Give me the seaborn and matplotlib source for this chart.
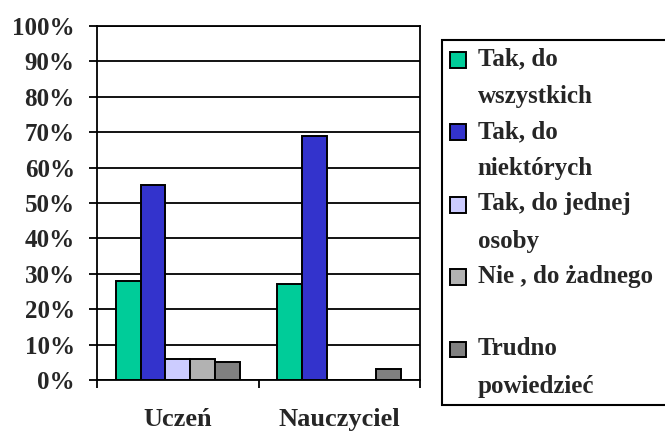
import matplotlib
matplotlib.use("Agg")
import matplotlib.pyplot as plt
import matplotlib.patches as mpatches
from matplotlib.legend_handler import HandlerPatch
from matplotlib.ticker import PercentFormatter, MultipleLocator
import seaborn as sns
import pandas as pd

# data (percent of answers)
groups = ["Uczeń", "Nauczyciel"]
answers = ["Tak, do wszystkich", "Tak, do niektórych", "Tak, do jednej osoby",
           "Nie , do żadnego", "Trudno powiedzieć"]
legend_labels = ["Tak, do\nwszystkich", "Tak, do\nniektórych", "Tak, do jednej\nosoby",
                 "Nie , do żadnego  \n ", "Trudno\npowiedzieć"]
uczen = [28, 55, 6, 6, 5]
nauczyciel = [27, 69, 0, 0, 3]
colors = ["#00CC99", "#3333CC", "#CCCCFF", "#B2B2B2", "#808080"]

rows = []
for g, vals in zip(groups, [uczen, nauczyciel]):
    for a, v in zip(answers, vals):
        rows.append({"grupa": g, "odpowiedz": a, "procent": v / 100})
df = pd.DataFrame(rows)

sns.set_theme(style="white")
plt.rcParams['font.family'] = ['Liberation Serif', 'DejaVu Serif']
plt.rcParams['font.weight'] = 'bold'

fig = plt.figure(figsize=(6.65, 4.32), dpi=100)
ax = fig.add_axes([97 / 665, 1 - 380 / 432, 323 / 665, 354 / 432])

sns.barplot(data=df, x="grupa", y="procent", hue="odpowiedz", order=groups,
            hue_order=answers, palette=colors, width=0.765, gap=0,
            edgecolor="black", linewidth=1.4, saturation=1, legend=False, ax=ax)

ax.set_xlim(-0.5, 1.5)
ax.set_ylim(0, 1)
ax.yaxis.set_major_locator(MultipleLocator(0.1))
ax.yaxis.set_major_formatter(PercentFormatter(1.0, decimals=0))
ax.grid(axis="y", color="black", linewidth=1.3)
ax.set_axisbelow(True)
for s in ax.spines.values():
    s.set_visible(True)
    s.set_color("black")
    s.set_linewidth(1.3)

ax.set_xlabel("")
ax.set_ylabel("")
ax.set_xticks([0, 1])
ax.set_xticklabels(groups)
ax.set_xticks([-0.5, 0.5, 1.5], minor=True)
ax.tick_params(axis="x", which="major", length=0, pad=20, labelsize=19)
ax.tick_params(axis="x", which="minor", length=6, width=1.3, color="black", direction="out", bottom=True)
ax.tick_params(axis="y", length=6, width=1.3, color="black", direction="out", left=True, pad=10, labelsize=18)


def top_patch(legend, orig_handle, xdescent, ydescent, width, height, fontsize):
    # put the colour box next to the first line of a two-line label
    return mpatches.Rectangle((-xdescent, -ydescent + 0.72 * fontsize), width, height)


handles = [mpatches.Patch(facecolor=c, edgecolor="black", linewidth=1.4) for c in colors]
leg = fig.legend(handles, legend_labels, loc="upper left",
                 bbox_to_anchor=(442 / 665, 1 - 40 / 432), bbox_transform=fig.transFigure,
                 borderaxespad=0, frameon=True, fancybox=False, edgecolor="black",
                 framealpha=1, prop={"size": 18, "weight": "bold"},
                 handlelength=0.64, handleheight=0.6, handletextpad=0.48,
                 labelspacing=0.48, borderpad=0.3,
                 handler_map={mpatches.Patch: HandlerPatch(patch_func=top_patch)})
leg.get_frame().set_linewidth(1.5)
for t in leg.get_texts():
    t.set_linespacing(1.8)

fig.savefig("out.png", dpi=100)
